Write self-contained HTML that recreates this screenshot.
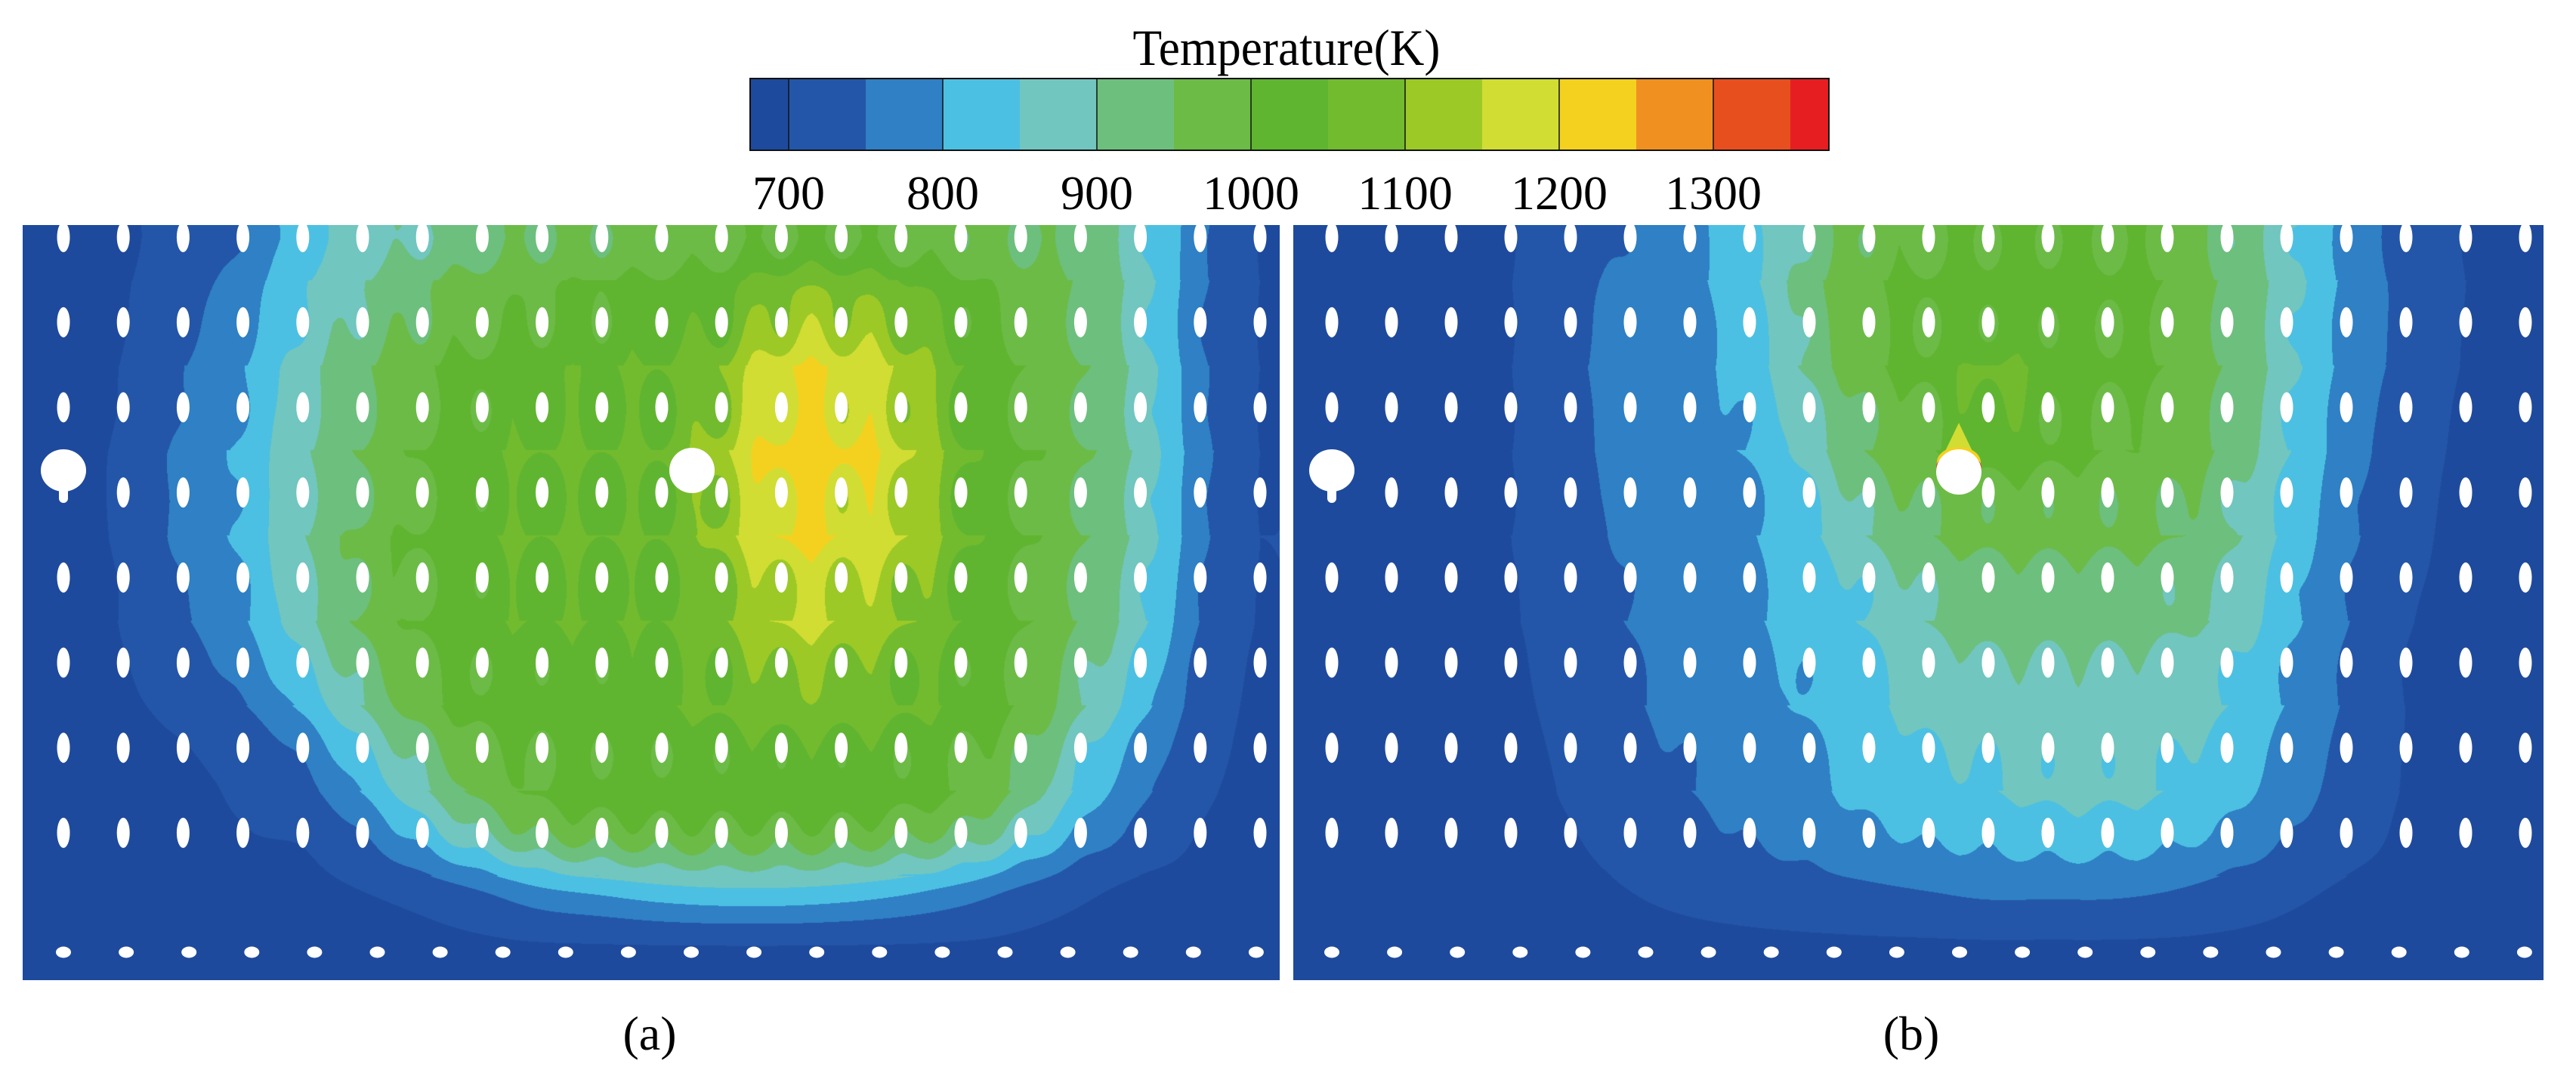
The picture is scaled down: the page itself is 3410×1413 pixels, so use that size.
<!DOCTYPE html>
<html><head><meta charset="utf-8">
<style>
html,body{margin:0;padding:0;background:#fff;}
#root{position:relative;width:3410px;height:1413px;overflow:hidden;background:#fff;}
canvas{position:absolute;}
svg{position:absolute;left:0;top:0;}
</style></head>
<body>
<div id="root">
<canvas id="cva" width="1664" height="1000" style="left:30px;top:298px"></canvas>
<canvas id="cvb" width="1655" height="1000" style="left:1712px;top:298px"></canvas>
<svg id="ov" width="3410" height="1413" viewBox="0 0 3410 1413">
  <g id="cbar"></g>
  <text x="1703" y="86" text-anchor="middle" font-family="Liberation Serif, serif" font-size="68" textLength="407" lengthAdjust="spacingAndGlyphs">Temperature(K)</text>
  <g id="holesA"></g>
  <g id="holesB"></g>
  <text x="860" y="1390" text-anchor="middle" font-family="Liberation Serif, serif" font-size="64">(a)</text>
  <text x="2530" y="1390" text-anchor="middle" font-family="Liberation Serif, serif" font-size="64">(b)</text>
</svg>
</div>
<script>
// colormap levels (K) and colours
const levels=[675,700,750,800,850,900,950,1000,1050,1100,1150,1200,1250,1300,1350,1375];
const colors=["#1e4a9d","#2356a8","#2f80c4","#4cc0e2","#71c6bf","#6dbf7d","#6cbb47","#60b530","#72bb2e","#9cc926","#d1dd33","#f5d11f","#f09020","#e84f1e","#e61e22"];
const tickLabels=[700,800,900,1000,1100,1200,1300];

// Panel (a) temperature at hole nodes (rows top->bottom, 21 cols)
const fieldA=[
[690,695,720,760,830,880,920,950,970,980,990,1000,1020,1020,1000,990,970,940,880,770,700],
[690,700,740,790,870,930,980,1010,1030,1040,1050,1080,1160,1160,1120,1050,1000,960,880,760,700],
[690,705,760,810,890,960,1010,1040,1060,1060,1070,1140,1230,1225,1170,1070,1020,970,890,770,700],
[690,710,770,820,900,970,1020,1050,1060,1060,1070,1150,1240,1230,1180,1080,1020,970,890,770,700],
[690,705,760,810,900,980,1020,1050,1060,1060,1060,1120,1190,1185,1150,1070,1020,960,880,760,700],
[690,700,730,780,860,950,1010,1040,1050,1050,1060,1090,1140,1130,1090,1050,1010,940,850,740,695],
[690,690,700,720,770,860,950,1010,1030,1040,1040,1050,1060,1060,1050,1030,980,880,790,720,690],
[690,690,690,700,710,760,840,920,980,1000,1010,1010,1010,1010,990,960,890,800,740,700,690],
[690,690,690,690,690,700,720,750,790,810,830,840,840,830,810,780,740,710,690,690,690],
[690,690,690,690,690,690,690,690,690,690,690,690,690,690,690,690,690,690,690,690,690]];
// Panel (b)
const fieldB=[
[690,690,690,700,730,760,790,850,930,990,1010,1030,1030,1020,1000,940,880,790,730,700,690],
[690,690,690,700,740,770,790,830,940,1000,1030,1040,1040,1030,1010,950,880,790,740,700,690],
[690,690,690,700,740,770,790,820,900,980,1020,1080,1040,1020,1000,950,870,780,730,695,690],
[690,690,690,700,730,770,790,800,860,940,980,1000,1000,990,980,930,850,770,720,690,690],
[690,690,690,700,720,760,780,800,830,880,930,950,950,950,940,910,830,760,710,690,690],
[690,690,690,695,720,750,770,790,820,850,890,910,910,910,900,870,810,750,700,690,690],
[690,690,690,690,710,740,760,780,800,830,860,870,880,880,870,840,790,740,700,690,690],
[690,690,690,690,700,720,740,760,780,800,820,830,840,840,830,800,760,720,695,690,690],
[690,690,690,690,690,700,710,720,730,740,750,760,760,760,750,730,710,695,690,690,690],
[690,690,690,690,690,690,690,690,690,690,690,690,690,690,690,690,690,690,690,690,690]];

const NS="http://www.w3.org/2000/svg";
function mk(tag,attrs,parent){const e=document.createElementNS(NS,tag);for(const k in attrs)e.setAttribute(k,attrs[k]);parent.appendChild(e);return e;}

// colorbar axis
const CB={x0:993,x1:2421,y0:104,y1:199};
function cbX(v){return CB.x0+(v-levels[0])/(levels[levels.length-1]-levels[0])*(CB.x1-CB.x0);}
const cb=document.getElementById('cbar');
for(let i=0;i<colors.length;i++){
  const r=mk('rect',{x:cbX(levels[i]),y:CB.y0,width:cbX(levels[i+1])-cbX(levels[i])+0.6,height:CB.y1-CB.y0,fill:colors[i]},cb);
  
  
}
mk('rect',{x:CB.x0,y:CB.y0,width:CB.x1-CB.x0,height:CB.y1-CB.y0,fill:'none',stroke:'#111','stroke-width':2},cb);
tickLabels.forEach(v=>{
  const l=mk('line',{x1:cbX(v),x2:cbX(v),y1:CB.y0,y2:CB.y1,stroke:'#111','stroke-width':1.5},cb);
  
  
  const t=mk('text',{x:cbX(v),y:277,'text-anchor':'middle','font-family':'Liberation Serif, serif','font-size':64},cb);
  t.textContent=String(v);
  
  
});

// field rendering
const rowY=[16,128.7,241.4,354.1,466.8,579.5,692.2,804.9,882,963];
function hex(c){return [parseInt(c.slice(1,3),16),parseInt(c.slice(3,5),16),parseInt(c.slice(5,7),16)];}
const rgb=colors.map(hex);
function cr(p0,p1,p2,p3,t){return 0.5*((2*p1)+(-p0+p2)*t+(2*p0-5*p1+4*p2-p3)*t*t+(-p0+3*p1-3*p2+p3)*t*t*t);}
function fracIdx(arr,v){if(v<=arr[0])return 0;for(let i=0;i<arr.length-1;i++){if(v<=arr[i+1])return i+(v-arr[i])/(arr[i+1]-arr[i]);}return arr.length-1;}
function render(id,field,x0,dx,W,H){
  const cv=document.getElementById(id),ctx=cv.getContext('2d');
  const img=ctx.createImageData(W,H),d=img.data;
  const nr=field.length,nc=field[0].length;
  const g=(a,i)=>a[Math.max(0,Math.min(a.length-1,i))];
  const colv=new Float32Array(nc);
  for(let y=0;y<H;y++){
    const fy=fracIdx(rowY,y),iy=Math.min(nr-2,Math.floor(fy)),ty=fy-iy;
    for(let c=0;c<nc;c++){
      colv[c]=cr(g(field,iy-1)[c],field[iy][c],field[iy+1][c],g(field,iy+2)[c],ty);
    }
    for(let x=0;x<W;x++){
      let fx=(x-x0)/dx; if(fx<0)fx=0; if(fx>nc-1)fx=nc-1;
      const ix=Math.min(nc-2,Math.floor(fx)),tx=fx-ix;
      let T=cr(colv[Math.max(0,ix-1)],colv[ix],colv[ix+1],colv[Math.min(nc-1,ix+2)],tx);
      const k=Math.round((x-x0)/dx);
      let r=Math.round((y-rowY[0])/(rowY[1]-rowY[0]));
      if(r>=0&&r<=7&&k>=0&&k<nc){
        const hx=x0+k*dx,hy=rowY[0]+r*(rowY[1]-rowY[0]);
        const q=((x-hx)/24)**2+((y-hy-8)/48)**2;
        T=690+(T-690)*(1-0.16*Math.exp(-q));
      }
      let ci=0;for(let i=colors.length-1;i>=0;i--){if(T>=levels[i]){ci=i;break;}}
      const p=(y*W+x)*4,cc=rgb[ci];
      d[p]=cc[0];d[p+1]=cc[1];d[p+2]=cc[2];d[p+3]=255;
    }
  }
  ctx.putImageData(img,0,0);
}
render('cva',fieldA,54,79.2,1664,1000);
render('cvb',fieldB,51,79.0,1655,1000);

// holes
function holes(gid,left,x0,dx,name){
  const g=document.getElementById(gid);
  for(let r=0;r<8;r++)for(let k=0;k<21;k++){
    if(r===3&&k===0)continue;
    const e=mk('ellipse',{cx:left+x0+k*dx,cy:298+rowY[r],rx:8.5,ry:20,fill:'#fff'},g);
    
    
  }
  for(let k=0;k<20;k++){
    const e=mk('ellipse',{cx:left+x0+k*83.1,cy:1261,rx:10,ry:7.5,fill:'#fff'},g);
    
    
  }
  const big=left+x0;
  const t=mk('rect',{x:big-6,y:640,width:12,height:26,rx:6,fill:'#fff'},g);
  
  
  const b=mk('ellipse',{cx:big,cy:623,rx:30,ry:28,fill:'#fff'},g);
  
  
}
holes('holesA',30,54,79.2,'panel-a');
holes('holesB',1712,51,79.0,'panel-b');
// central holes
const hb=document.getElementById('holesB');
const cone=mk('path',{d:'M2593 560 L2568 612 L2618 612 Z',fill:'#d1dd33'},hb);


const ora=mk('ellipse',{cx:2593,cy:612,rx:29,ry:20,fill:'#f5d11f'},hb);


const red=mk('ellipse',{cx:2593,cy:619,rx:30,ry:18,fill:'#e03a1e'},hb);


const cb2=mk('circle',{cx:2593,cy:625,r:30,fill:'#fff'},hb);


const ha=document.getElementById('holesA');
const ca=mk('circle',{cx:916,cy:623,r:30,fill:'#fff'},ha);


</script>
</body></html>
